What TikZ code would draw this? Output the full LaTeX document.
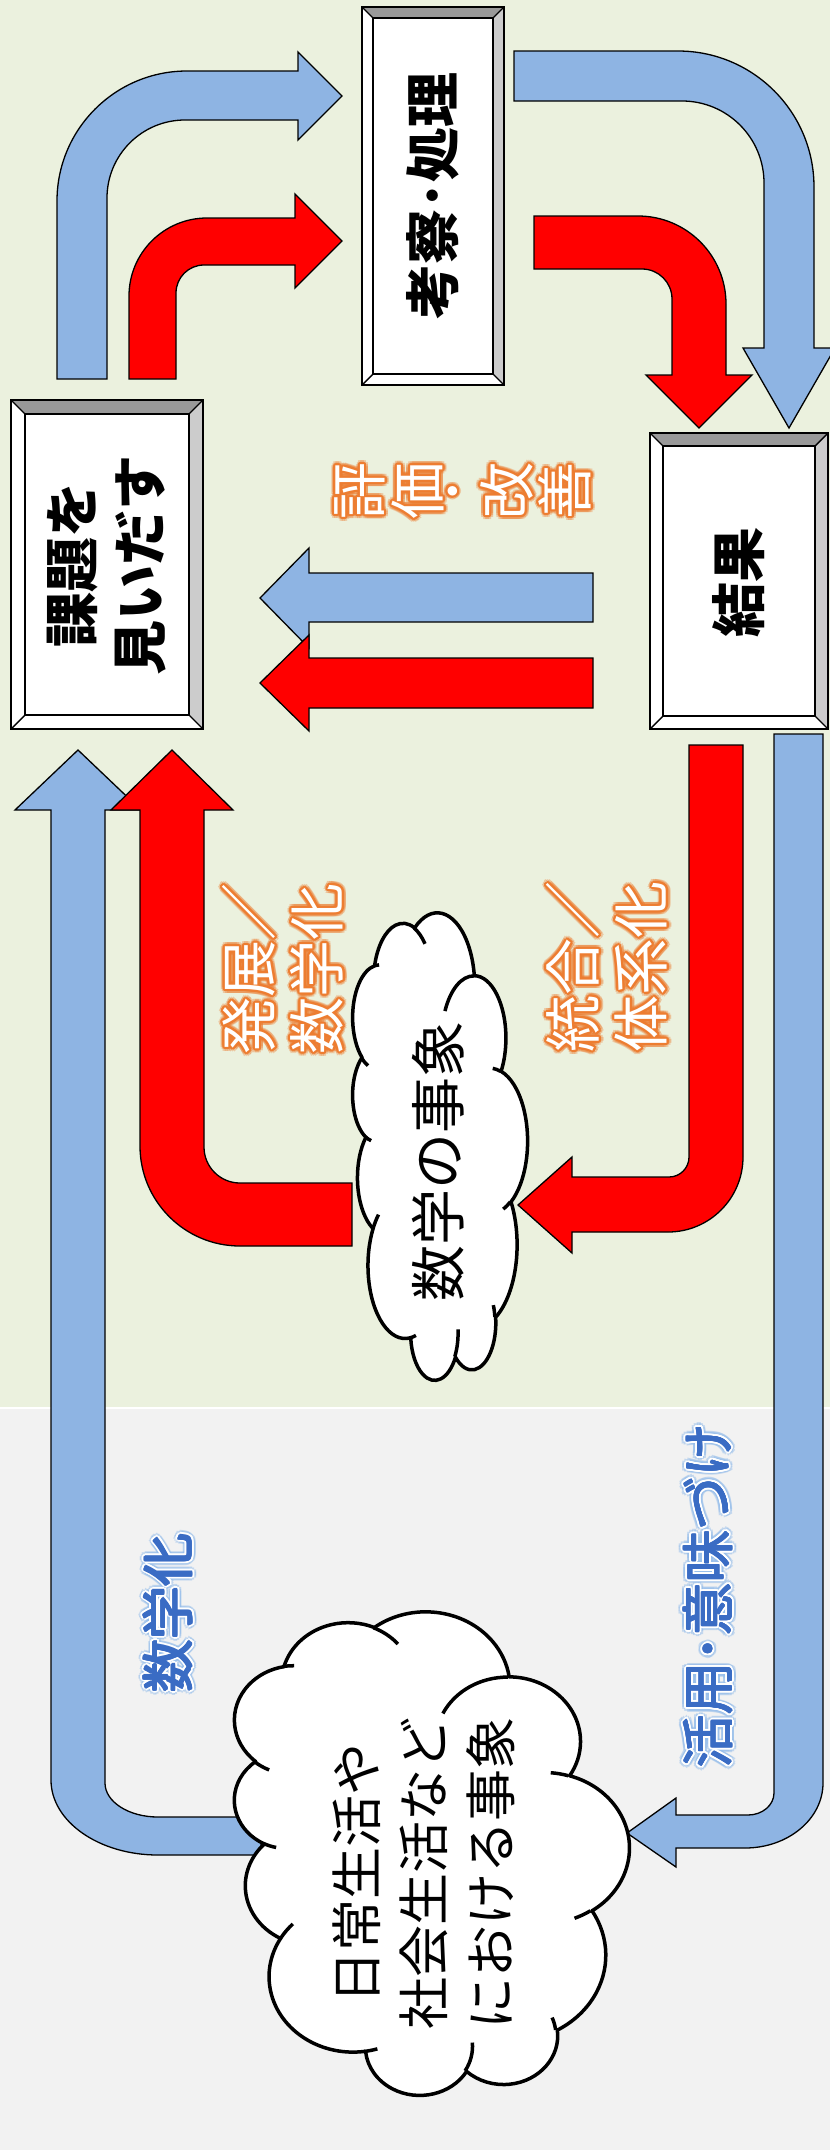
\documentclass[tikz,border=0pt]{standalone}
\usepackage{fontspec}
\setmainfont{Noto Sans CJK JP}
\usetikzlibrary{calc}
\definecolor{bgtop}{RGB}{235,241,222}
\definecolor{bgbot}{RGB}{242,242,242}
\definecolor{arrowblue}{RGB}{142,180,227}
\definecolor{arrowred}{RGB}{255,0,0}
\definecolor{lblorange}{RGB}{237,125,49}
\definecolor{lblblue}{RGB}{58,108,196}
\definecolor{glowblue}{RGB}{150,190,235}
\definecolor{bevdark}{RGB}{153,153,153}
\definecolor{bevlight}{RGB}{204,204,204}
\tikzset{
  arrowshape/.style={draw=black, line width=1.3pt, line join=miter},
  bluearrow/.style={arrowshape, fill=arrowblue},
  redarrow/.style={arrowshape, fill=arrowred},
  boxtext/.style={rotate=90, align=center, inner sep=0pt, font=\bfseries\fontsize{55}{68}\selectfont},
  cloudtext/.style={rotate=90, align=center, inner sep=0pt},
  lbl/.style={rotate=90, align=center, inner sep=0pt, font=\fontsize{57}{68}\selectfont},
  lblb/.style={rotate=90, align=center, inner sep=0pt, font=\fontsize{53}{62}\selectfont},
  bevline/.style={draw=black, line width=1.4pt},
  cloudline/.style={draw=black, line width=3.5pt, line join=round},
}
% arc of an OOXML ellipse (visual angles)
\newcommand\ooarc[4]{\pgfextra{%
  \pgfmathparse{atan2((#1)*sin(#3),(#2)*cos(#3))}\xdef\oots{\pgfmathresult}%
  \pgfmathparse{atan2((#1)*sin((#3)+(#4)),(#2)*cos((#3)+(#4)))}\xdef\oote{\pgfmathresult}%
  \pgfmathparse{mod(\oote-(\oots)+720,360)}\xdef\ood{\pgfmathresult}}%
  arc[x radius=#1, y radius=#2, start angle=\oots, delta angle=\ood]}
\newcommand\oocloud[5]{% #1 X0, #2 Y1, #3 scale along image y, #4 scale along image x, #5 name
  \begin{scope}[shift={(#1,#2)}, x={(0pt,#3pt)}, y={(#4pt,0pt)}]
    \draw[cloudline, fill=white] (39,143.7)
      \ooarc{67.53}{91.90}{-190.4875}{123.7805}
      \ooarc{53.33}{72.67}{-144.1024}{89.9452}
      \ooarc{43.65}{59.45}{-145.8079}{99.7230}
      \ooarc{48.57}{65.95}{-130.9861}{117.2417}
      \ooarc{53.33}{72.73}{-78.7089}{109.0269}
      \ooarc{67.75}{92.20}{-46.2673}{130.2690}
      \ooarc{57.85}{78.67}{0.6250}{114.0333}
      \ooarc{67.52}{92.15}{22.4516}{115.1726}
      \ooarc{77.20}{105.43}{66.2426}{75.7110}
      \ooarc{43.60}{59.18}{-274.9421}{146.7356}
      \ooarc{43.45}{59.45}{-246.8285}{152.5189}
      -- cycle;
    \coordinate (#5) at (216,216);
    \draw[cloudline, line cap=butt]
      (46.93,261.77) \ooarc{43.45}{59.45}{86.7420}{26.4295}
      (69.28,348.99) \ooarc{43.60}{59.18}{73.6105}{11.4475}
      (164.78,390.90) \ooarc{67.52}{92.15}{137.6242}{14.0811}
      (288.27,347.51) \ooarc{67.52}{92.15}{6.4533}{15.9984}
      (341.29,229.54) \ooarc{57.85}{78.67}{-70.2924}{70.9174}
      (417.98,153.54) \ooarc{53.33}{72.73}{30.3180}{27.7515}
      (383.24,54.26) \ooarc{48.57}{65.95}{-13.7443}{14.8589}
      (290.78,39.52) \ooarc{48.57}{65.95}{-149.1815}{18.1954}
      (221.41,47.20) \ooarc{43.65}{59.45}{-163.4943}{17.6864}
      (140.00,51.92) \ooarc{67.53}{91.90}{-66.7070}{12.3194}
      (41.27,157.89) \ooarc{67.53}{91.90}{157.6544}{11.8582};
  \end{scope}}
% bevel box
\newcommand\bevelbox[6]{% #1 x1, #2 y1, #3 x2, #4 y2, #5 bevel, #6 name
  \fill[white] (#1,#2) rectangle (#3,#4);
  \fill[bevdark] (#1,#2) -- (#3,#2) -- ({#3-#5},{#2+#5}) -- ({#1+#5},{#2+#5}) -- cycle;
  \fill[bevlight] (#3,#2) -- (#3,#4) -- ({#3-#5},{#4-#5}) -- ({#3-#5},{#2+#5}) -- cycle;
  \draw[bevline] (#1,#2) rectangle (#3,#4);
  \draw[bevline] ({#1+#5},{#2+#5}) rectangle ({#3-#5},{#4-#5});
  \draw[bevline] (#1,#2) -- ({#1+#5},{#2+#5}) (#3,#2) -- ({#3-#5},{#2+#5})
     (#3,#4) -- ({#3-#5},{#4-#5}) (#1,#4) -- ({#1+#5},{#4-#5});
  \coordinate (#6) at ({(#1+#3)/2},{(#2+#4)/2});}
% orange outlined label: white text, orange outline, faint glow
\newcommand\fancylabel[7]{% #1 name, #2 position, #3 style, #4 glow, #5 outline, #6 fill, #7 text
  \foreach \ang in {0,30,...,330}{\node[#3, text=#4, opacity=0.35] at ($(#2)+(\ang:4.2)$) {#7};}
  \foreach \ang in {0,22.5,...,337.5}{\node[#3, text=#5] at ($(#2)+(\ang:2)$) {#7};}
  \node[#3, text=#6] (#1) at (#2) {#7};}
% blue label: blue text (slightly heavier), white outline, light blue glow
\newcommand\bluelabel[3]{% #1 name, #2 position, #3 text
  \foreach \ang in {0,30,...,330}{\node[lblb, text=glowblue, opacity=0.5] at ($(#2)+(\ang:4.8)$) {#3};}
  \foreach \ang in {0,22.5,...,337.5}{\node[lblb, text=white] at ($(#2)+(\ang:2.6)$) {#3};}
  \foreach \ang in {0,45,...,315}{\node[lblb, text=lblblue] at ($(#2)+(\ang:0.7)$) {#3};}
  \node[lblb, text=lblblue] (#1) at (#2) {#3};}
\begin{document}
\begin{tikzpicture}[x=1pt, y=-1pt]
\useasboundingbox (0,0) rectangle (830,2150);
\fill[bgtop] (0,0) rectangle (830,1408);
\fill[bgbot] (0,1408) rectangle (830,2150);
\draw[white, line width=1.5pt] (0,1408) -- (830,1408);

% boxes
\bevelbox{11}{400}{203}{729}{14}{b1}
\bevelbox{362}{7}{504}{385}{11}{b2}
\bevelbox{650}{433}{828}{729}{13}{b3}
\node[boxtext] (t1) at (107,565) {課題を\\見いだす};
\node[boxtext] (t2) at (433,196) {考察･処理};
\node[boxtext] (t3) at (739,582) {結果};

% top arrows
\draw[bluearrow] (57,379) -- (57,201) arc[start angle=180, end angle=270, radius=130] -- (298,71) -- (298,52) -- (342,96) -- (298,140) -- (298,120) -- (185,120) arc[start angle=270, end angle=180, radius=78] -- (107,379) -- cycle;
\draw[redarrow] (129,379) -- (129,296) arc[start angle=180, end angle=270, radius=78] -- (295,218) -- (295,194) -- (342,241) -- (295,288) -- (295,265) -- (204,265) arc[start angle=270, end angle=180, radius=28] -- (176,379) -- cycle;
\draw[bluearrow] (514,51) -- (678,51) arc[start angle=270, end angle=360, radius=136] -- (814,348) -- (835,348) -- (789,428) -- (743,348) -- (764,348) -- (764,183) arc[start angle=0, end angle=-90, radius=82] -- (514,101) -- cycle;
\draw[redarrow] (534,216) -- (638,216) arc[start angle=270, end angle=360, radius=88] -- (726,375) -- (752,375) -- (699,428) -- (646,375) -- (672,375) -- (672,299) arc[start angle=0, end angle=-90, radius=30] -- (534,269) -- cycle;

% middle left arrows
\draw[bluearrow] (593,573) -- (309,573) -- (309,548) -- (260,598) -- (309,648) -- (309,622) -- (593,622) -- cycle;
\draw[redarrow] (593,658) -- (309,658) -- (309,635) -- (260,683) -- (309,731) -- (309,708) -- (593,708) -- cycle;

% long arrows
\draw[bluearrow] (105,810) -- (141,810) -- (78,750) -- (15,810) -- (51,810) -- (51,1780) arc[start angle=180, end angle=90, x radius=107, y radius=75] -- (261,1855) -- (261,1817) -- (158,1817) arc[start angle=90, end angle=180, x radius=53, y radius=34] -- cycle;
\draw[redarrow] (204,810) -- (233,810) -- (172,750) -- (111,810) -- (140,810) -- (140,1146) arc[start angle=180, end angle=90, radius=100] -- (352,1246) -- (352,1183) -- (240,1183) arc[start angle=90, end angle=180, radius=36] -- cycle;
\draw[redarrow] (689,745) -- (743,745) -- (743,1157) arc[start angle=0, end angle=90, radius=75] -- (572,1232) -- (572,1253) -- (518,1205) -- (572,1157) -- (572,1177) -- (669,1177) arc[start angle=90, end angle=0, radius=20] -- cycle;
\draw[bluearrow] (774,734) -- (823,734) -- (823,1783) arc[start angle=0, end angle=90, x radius=78, y radius=65] -- (676,1848) -- (676,1867) -- (627,1833) -- (676,1798) -- (676,1815) -- (748,1815) arc[start angle=90, end angle=0, x radius=26, y radius=22] -- cycle;

% clouds
\oocloud{352}{1380}{1.081}{0.405}{c1}
\node[cloudtext, font=\fontsize{56}{66}\selectfont] (ct1) at (438,1161) {数学の事象};
\oocloud{233}{2095}{1.118}{0.9144}{c2}
\node[cloudtext, font=\fontsize{52}{67}\selectfont] (ct2) at (424,1873) {日常生活や\\社会生活など\\における事象};

% labels
\fancylabel{l1}{283,969}{lbl}{lblorange}{lblorange}{white}{発展／\\数学化}
\fancylabel{l2}{607,967}{lbl}{lblorange}{lblorange}{white}{統合／\\体系化}
\fancylabel{e1}{360,491}{lbl}{lblorange}{lblorange}{white}{評}
\fancylabel{e2}{418,491}{lbl}{lblorange}{lblorange}{white}{価}
\fancylabel{e3}{461,491}{lbl}{lblorange}{lblorange}{white}{･}
\fancylabel{e4}{507,491}{lbl}{lblorange}{lblorange}{white}{改}
\fancylabel{e5}{565,491}{lbl}{lblorange}{lblorange}{white}{善}
\bluelabel{l3}{168,1613}{数学化}
\bluelabel{l4}{708,1596}{活用･意味づけ}
\end{tikzpicture}
\end{document}
